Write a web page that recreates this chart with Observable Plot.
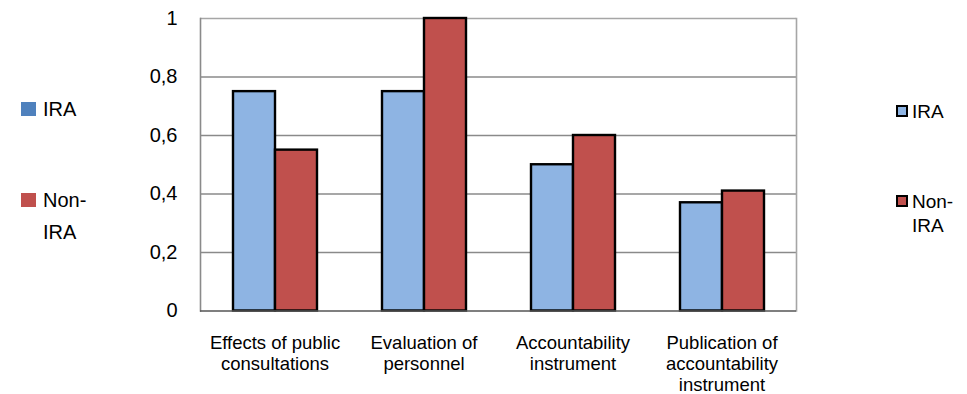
<!DOCTYPE html>
<html>
<head>
<meta charset="utf-8">
<script src="https://cdn.jsdelivr.net/npm/d3@7"></script>
<script src="https://cdn.jsdelivr.net/npm/@observablehq/plot@0.6"></script>
<style>
  body { margin: 0; background: #fff; font-family: "Liberation Sans", Arial, sans-serif; }
  #wrap { position: relative; width: 967px; height: 394px; }
  #wrap svg { position: absolute; left: 0; top: 0; }
  .lg { position: absolute; color: #000; white-space: nowrap; }
  .lg .sw { position: absolute; box-sizing: border-box; }
</style>
</head>
<body>
<div id="wrap"></div>
<script>
// Categories (x groups), with their wrapped axis labels
const categories = [
  "Effects of public consultations",
  "Evaluation of personnel",
  "Accountability instrument",
  "Publication of accountability instrument"
];
const categoryLabels = [
  "Effects of public\nconsultations",
  "Evaluation of\npersonnel",
  "Accountability\ninstrument",
  "Publication of\naccountability\ninstrument"
];
const series = ["IRA", "Non-IRA"];
const iraValues = [0.75, 0.75, 0.50, 0.37];
const nonIraValues = [0.55, 1.00, 0.60, 0.41];
const yTicks = [0, 0.2, 0.4, 0.6, 0.8, 1];

const barColors = ["#8EB4E3", "#C0504D"];
const leftLegendColors = ["#4F81BD", "#C0504D"];

const rows = [];
categories.forEach((c, i) => {
  rows.push({category: c, series: series[0], value: iraValues[i]});
  rows.push({category: c, series: series[1], value: nonIraValues[i]});
});
const labelOf = new Map(categories.map((c, i) => [c, categoryLabels[i]]));
const fmt = d => String(d).replace(".", ",");

const chart = Plot.plot({
  width: 967,
  height: 394,
  marginLeft: 199,
  marginRight: 171,
  marginTop: 18,
  marginBottom: 83.5,
  style: {fontFamily: "'Liberation Sans', Arial, sans-serif", background: "transparent", color: "#000"},
  fx: {domain: categories, paddingInner: 0, paddingOuter: 0, label: null, axis: null},
  x: {domain: series, paddingInner: 0, paddingOuter: 0.735, axis: null},
  y: {domain: [0, 1], label: null, axis: null},
  color: {domain: series, range: barColors},
  marks: [
    Plot.ruleY(yTicks.filter(d => d > 0 && d < 1), {stroke: "#8a8a8a", strokeWidth: 1.4}),
    Plot.ruleY([1], {stroke: "#a6a6a6", strokeWidth: 1.6}),
    // plot-area sides, spanning all facets
    Plot.frame({anchor: "left", facet: "super", stroke: "#8a8a8a", strokeWidth: 1.6}),
    Plot.frame({anchor: "right", facet: "super", stroke: "#a6a6a6", strokeWidth: 1.6}),
    Plot.barY(rows, {fx: "category", x: "series", y: "value", fill: "series", stroke: "#000", strokeWidth: 2.4}),
    Plot.ruleY([0], {stroke: "#555", strokeWidth: 1.6}),
    Plot.axisY({ticks: yTicks, tickFormat: fmt, tickSize: 0, tickPadding: 23, fontSize: 20, label: null}),
    Plot.axisFx({anchor: "bottom", tickSize: 0, tickPadding: 23, fontSize: 18.5, lineHeight: 1.13, tickFormat: d => labelOf.get(d), label: null})
  ]
});

const wrap = document.getElementById("wrap");
wrap.appendChild(chart);

// Left legend: plain swatches
function leftItem(top, text, color) {
  const el = document.createElement("div");
  el.className = "lg";
  el.style.cssText = `left:43px;top:${top}px;font-size:20px;line-height:32px;`;
  el.innerHTML = text;
  const sw = document.createElement("div");
  sw.className = "sw";
  sw.style.cssText = `left:-22px;top:8.5px;width:15px;height:14px;background:${color};`;
  el.appendChild(sw);
  wrap.appendChild(el);
}
leftItem(93.4, series[0], leftLegendColors[0]);
leftItem(184.4, "Non-<br>IRA", leftLegendColors[1]);

// Right legend: outlined swatches
function rightItem(top, text, color) {
  const el = document.createElement("div");
  el.className = "lg";
  el.style.cssText = `left:912px;top:${top}px;font-size:19px;line-height:24px;`;
  el.innerHTML = text;
  const sw = document.createElement("div");
  sw.className = "sw";
  sw.style.cssText = `left:-16px;top:5.5px;width:12px;height:12px;background:${color};border:2px solid #000;`;
  el.appendChild(sw);
  wrap.appendChild(el);
}
rightItem(99.5, series[0], barColors[0]);
rightItem(189.5, "Non-<br>IRA", barColors[1]);
</script>
</body>
</html>
